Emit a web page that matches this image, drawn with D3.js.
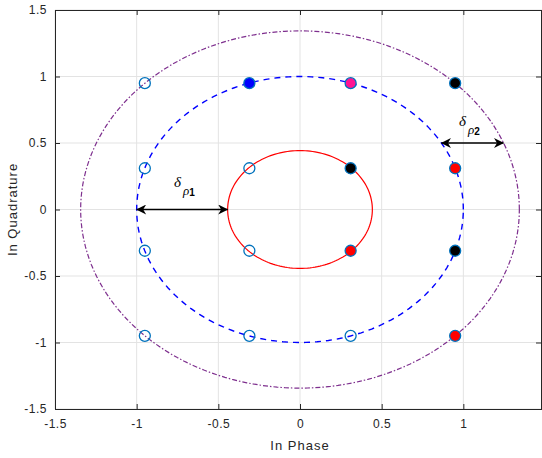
<!DOCTYPE html>
<html><head><meta charset="utf-8">
<script src="https://cdn.jsdelivr.net/npm/d3@7"></script>
<style>body{margin:0;background:#fff}svg{display:block;font-family:Helvetica,Arial,"Liberation Sans",sans-serif}</style>
</head><body>
<svg id="c" width="542" height="458"></svg>
<script>
const xTicks = [-1.5,-1,-0.5,0,0.5,1,1.5];
const yTicks = [-1.5,-1,-0.5,0,0.5,1,1.5];
const xTickLabels = ["-1.5","-1","-0.5","0","0.5","1",""];
const yTickLabels = ["-1.5","-1","-0.5","0","0.5","1","1.5"];
const pointsI = [-0.95,-0.95,-0.95,-0.95,-0.31,-0.31,-0.31,0.31, -0.31,0.31,0.95,0.31,0.31,0.95,0.95,0.95];
const pointsQ = [0.95,0.31,-0.31,-0.95,0.31,-0.31,-0.95,-0.95, 0.95,0.95,0.95,0.31,-0.31,0.31,-0.31,-0.95];
const pointFill = ["none","none","none","none","none","none","none","none","#0000ff","#ff1493","#000000","#000000","#ff0000","#ff0000","#000000","#ff0000"];
const ringRadii = [0.443, 1.0, 1.343];
const ringNames = ["inner","middle","outer"];
const arrow1 = {x0:-1.0, x1:-0.443, y:0};
const arrow2 = {x0:0.866, x1:1.246, y:0.5};

const svg = d3.select("#c");
const L=55, R=545, T=10, B=409;
const x = d3.scaleLinear().domain([-1.5,1.5]).range([L,R]);
const y = d3.scaleLinear().domain([-1.5,1.5]).range([B,T]);

// grid
svg.append("g").selectAll("line").data(xTicks).join("line")
  .attr("x1",d=>x(d)).attr("x2",d=>x(d)).attr("y1",T).attr("y2",B)
  .attr("stroke","#e3e3e3").attr("stroke-width",1);
svg.append("g").selectAll("line").data(yTicks).join("line")
  .attr("y1",d=>y(d)).attr("y2",d=>y(d)).attr("x1",L).attr("x2",R)
  .attr("stroke","#e3e3e3").attr("stroke-width",1);

// rings
const ang = d3.range(0, 361, 2).map(a=>a*Math.PI/180);
const ringStyle = [
  {stroke:"#ff0000", dash:null, w:1.2},
  {stroke:"#0000ff", dash:"6,5", w:1.4},
  {stroke:"#7e2f8e", dash:"5,2,1.5,2", w:1.2}
];
ringRadii.forEach((r,i)=>{
  const line = d3.line().x(a=>x(r*Math.cos(a))).y(a=>y(r*Math.sin(a)));
  svg.append("path").attr("d",line(ang)).attr("fill","none")
    .attr("stroke",ringStyle[i].stroke).attr("stroke-width",ringStyle[i].w)
    .attr("stroke-dasharray",ringStyle[i].dash);
});

// axes
const ax = d3.axisBottom(x).tickValues(xTicks).tickSize(-5).tickFormat((d,i)=>xTickLabels[i]).tickPadding(10);
const gx = svg.append("g").attr("transform",`translate(0,${B})`).call(ax);
const axT = d3.axisTop(x).tickValues(xTicks).tickSize(-5).tickFormat("");
svg.append("g").attr("transform",`translate(0,${T})`).call(axT);
const ay = d3.axisLeft(y).tickValues(yTicks).tickSize(-5).tickFormat((d,i)=>yTickLabels[i]).tickPadding(8);
svg.append("g").attr("transform",`translate(${L},0)`).call(ay);
const ayR = d3.axisRight(y).tickValues(yTicks).tickSize(-5).tickFormat("");
svg.append("g").attr("transform",`translate(${R-4},0)`).call(ayR);
svg.selectAll(".domain").attr("stroke","#262626").attr("stroke-width",1);
svg.selectAll(".tick line").attr("stroke","#262626");
svg.selectAll(".tick text").attr("fill","#262626").style("font-size","12px").style("letter-spacing","0.5px")
  .style("font-family","Helvetica,Arial,'Liberation Sans',sans-serif");

// arrows
const defs = svg.append("defs");
defs.append("marker").attr("id","ah").attr("viewBox","0 0 10 10").attr("refX",9.5).attr("refY",5)
  .attr("markerWidth",12).attr("markerHeight",10).attr("markerUnits","userSpaceOnUse").attr("orient","auto-start-reverse")
  .append("path").attr("d","M0,0 L10,5 L0,10 L3,5 Z").attr("fill","#000");
[arrow1,arrow2].forEach(a=>{
  svg.append("line").attr("x1",x(a.x0)).attr("x2",x(a.x1)).attr("y1",y(a.y)).attr("y2",y(a.y))
    .attr("stroke","#000").attr("stroke-width",1.3)
    .attr("marker-start","url(#ah)").attr("marker-end","url(#ah)");
});
function deltaLabel(px,py,sub){
  const t = svg.append("text").attr("x",px).attr("y",py).attr("font-family","'Times New Roman','Liberation Serif',serif")
    .attr("font-size","15px").attr("fill","#000");
  t.append("tspan").attr("font-style","italic").text("δ");
  t.append("tspan").attr("dx",2).attr("dy",8).attr("font-style","italic").attr("font-size","13px").text("ρ");
  t.append("tspan").attr("dy",1).attr("font-size","10px").attr("font-weight","bold").attr("font-family","Helvetica,Arial,sans-serif").text(sub);
}
deltaLabel(174,187,"1");
deltaLabel(459,126,"2");

// points
const pts = pointsI.map((v,i)=>({i:v,q:pointsQ[i],f:pointFill[i]}));
svg.append("g").selectAll("circle").data(pts).join("circle")
  .attr("cx",d=>x(d.i)).attr("cy",d=>y(d.q)).attr("r",5.5)
  .attr("fill",d=>d.f==="none"?"none":d.f).attr("stroke","#0072bd").attr("stroke-width",1.3);

// axis labels
svg.append("text").attr("x",x(0)).attr("y",450).attr("text-anchor","middle")
  .style("font-size","13px").style("letter-spacing","1px").attr("fill","#262626").text("In Phase");
svg.append("text").attr("transform",`translate(17,${y(0)}) rotate(-90)`).attr("text-anchor","middle")
  .style("font-size","13px").style("letter-spacing","1px").attr("fill","#262626").text("In Quadrature");
</script>
</body></html>
